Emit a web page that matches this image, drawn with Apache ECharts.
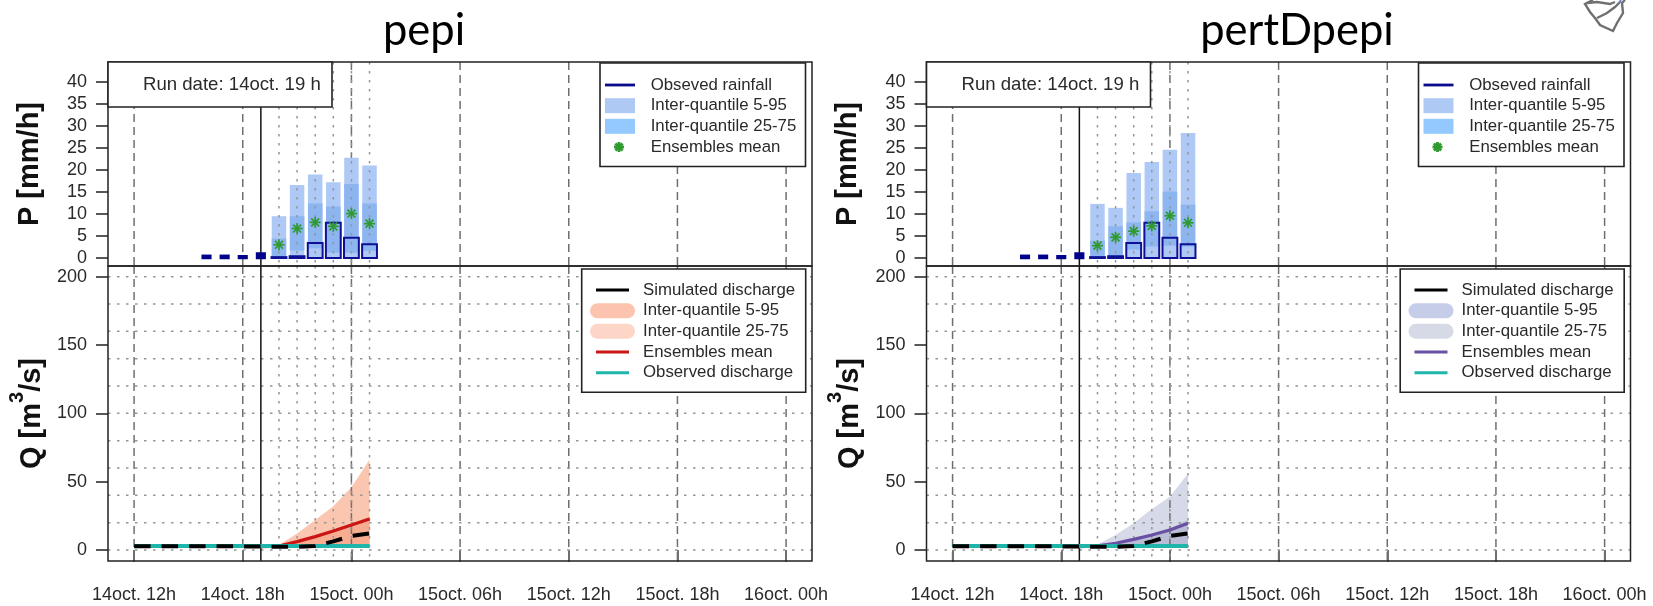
<!DOCTYPE html>
<html>
<head>
<meta charset="utf-8">
<title>pepi / pertDpepi</title>
<script src="https://cdn.jsdelivr.net/npm/echarts@6/dist/echarts.min.js"></script>
<style>
  html, body { margin: 0; padding: 0; background: #fff; }
  #chart { width: 1653px; height: 606px; }
</style>
</head>
<body>
<div id="chart"></div>
<script>
// hours counted from 14oct 00h
const timeTicks = [12, 18, 24, 30, 36, 42, 48]
const timeLabels = ['14oct. 12h', '14oct. 18h', '15oct. 00h', '15oct. 06h', '15oct. 12h', '15oct. 18h', '16oct. 00h']
const runHour = 19
const forecastHours = [20, 21, 22, 23, 24, 25]
const pastRainHours = [16, 17, 18, 19]
const pastRain = [0.5, 0.5, 0.4, 1.0]
const observedRain = [0.2, 0.4, 3.4, 8.0, 4.6, 3.1]
const rainTicks = [0, 5, 10, 15, 20, 25, 30, 35, 40]
const flowTicks = [0, 50, 100, 150, 200]
const flowGrid = [0, 20, 40, 60, 80, 100, 120, 140, 160, 180, 200]

const simHours = [12, 13, 14, 15, 16, 17, 18, 19, 20, 21, 22, 23, 24, 25]
const simulated = [2.8, 2.8, 2.8, 2.7, 2.7, 2.7, 2.6, 2.5, 2.4, 2.4, 3.0, 6.3, 10.3, 12.2]
const observedFlow = [3, 3, 3, 3, 3, 3, 3, 3, 3, 3, 3, 3, 3, 3]
const bandHours = [19, 20, 21, 22, 23, 24, 25]

// pepi
const pepiRainQ95 = [9.5, 16.6, 19.0, 17.2, 22.8, 21.0]
const pepiRainQ75 = [4.4, 9.5, 12.4, 11.7, 16.8, 12.4]
const pepiRainQ25 = [0.4, 1.7, 2.2, 1.2, 1.2, 1.6]
const pepiRainMean = [3.0, 6.7, 8.1, 7.2, 10.1, 7.8]
const pepiFlowQ95 = [2.6, 3.6, 12, 22, 32, 46, 66]
const pepiFlowQ75 = [2.6, 3.1, 6.3, 10.2, 14.8, 19.2, 24.5]
const pepiFlowLow = [2.6, 2.8, 2.9, 3, 3, 3, 3]
const pepiFlowMean = [2.5, 2.9, 6.1, 9.8, 13.9, 18.3, 22.7]

// pertDpepi
const pertRainQ95 = [12.3, 11.4, 19.3, 21.8, 24.6, 28.4]
const pertRainQ75 = [3.9, 7.2, 8.1, 10.6, 15.1, 12.1]
const pertRainQ25 = [0.3, 0.3, 1.9, 2.6, 2.8, 2.6]
const pertRainMean = [2.8, 4.7, 6.1, 7.3, 9.6, 8.0]
const pertFlowQ95 = [2.6, 4.0, 11, 19.5, 30, 39, 56]
const pertFlowQ75 = [2.6, 3.0, 5.4, 8.5, 11.7, 16, 22]
const pertFlowLow = [2.6, 2.8, 2.9, 3, 3, 3, 3]
const pertFlowMean = [2.5, 3.0, 4.9, 7.8, 11, 14.6, 19.5]

const rainLegend = ['Obseved rainfall', 'Inter-quantile 5-95', 'Inter-quantile 25-75', 'Ensembles mean']
const flowLegend = ['Simulated discharge', 'Inter-quantile 5-95', 'Inter-quantile 25-75', 'Ensembles mean', 'Observed discharge']

const FONT = '"Liberation Sans", Arial, sans-serif'
const INK = '#222'
const NAVY = '#0d1096'
const GREEN = '#2f9a2f'
const TEAL = '#1fb5ab'

const X_MIN = 10.56
const X_MAX = 49.43

const series = []
const xAxes = []
const yAxes = []
const grids = []

function verticals(values, gridIndex, style, z) {
  return {
    type: 'custom', xAxisIndex: gridIndex, yAxisIndex: gridIndex, z: z, silent: true,
    data: values.map(v => [v]),
    encode: { x: 0 },
    renderItem: (params, api) => {
      const x = api.coord([api.value(0), 0])[0]
      const c = params.coordSys
      return { type: 'line', shape: { x1: x, y1: c.y, x2: x, y2: c.y + c.height }, style: style }
    }
  }
}

function horizontals(values, gridIndex, style, z) {
  return {
    type: 'custom', xAxisIndex: gridIndex, yAxisIndex: gridIndex, z: z, silent: true,
    data: values.map(v => [v]),
    encode: { y: 0 },
    renderItem: (params, api) => {
      const y = api.coord([X_MIN, api.value(0)])[1]
      const c = params.coordSys
      return { type: 'line', shape: { x1: c.x, y1: y, x2: c.x + c.width, y2: y }, style: style }
    }
  }
}

// columns spanning lo..hi, one per hour
function columns(hours, lo, hi, barHours, style, gridIndex, z) {
  return {
    type: 'custom', xAxisIndex: gridIndex, yAxisIndex: gridIndex, z: z, silent: true,
    data: hours.map((h, i) => [h, lo[i], hi[i]]),
    encode: { x: 0, y: 2 },
    renderItem: (params, api) => {
      const a = api.coord([api.value(0) - barHours / 2, api.value(2)])
      const b = api.coord([api.value(0) + barHours / 2, api.value(1)])
      return { type: 'rect', shape: { x: a[0], y: a[1], width: b[0] - a[0], height: b[1] - a[1] }, style: style }
    }
  }
}

function stars(hours, values, gridIndex) {
  return {
    type: 'custom', xAxisIndex: gridIndex, yAxisIndex: gridIndex, z: 7, silent: true,
    data: hours.map((h, i) => [h, values[i]]),
    encode: { x: 0, y: 1 },
    renderItem: (params, api) => {
      const p = api.coord([api.value(0), api.value(1)])
      return { type: 'group', children: starShapes(p[0], p[1], 5.5, 1.7) }
    }
  }
}

function starShapes(x, y, r, w) {
  const d = r * 0.72
  const style = { stroke: GREEN, lineWidth: w, fill: 'none' }
  return [[-r, 0, r, 0], [0, -r, 0, r], [-d, -d, d, d], [-d, d, d, -d]].map(s => ({
    type: 'line', z: 100, shape: { x1: x + s[0], y1: y + s[1], x2: x + s[2], y2: y + s[3] }, style: style
  }))
}

// closed area between two curves
function band(hours, lo, hi, fill, gridIndex, z) {
  return {
    type: 'custom', xAxisIndex: gridIndex, yAxisIndex: gridIndex, z: z, silent: true,
    data: [[hours[0], lo[0]], [hours[hours.length - 1], hi[hi.length - 1]]],
    encode: { x: 0, y: 1 },
    renderItem: (params, api) => {
      if (params.dataIndex > 0) return null
      const pts = []
      hours.forEach((h, i) => pts.push(api.coord([h, hi[i]])))
      for (let i = hours.length - 1; i >= 0; i--) pts.push(api.coord([hours[i], lo[i]]))
      return { type: 'polygon', shape: { points: pts }, style: { fill: fill } }
    }
  }
}

function curve(hours, values, color, width, gridIndex, z, dash) {
  return {
    type: 'line', xAxisIndex: gridIndex, yAxisIndex: gridIndex, z: z, silent: true,
    showSymbol: false, symbol: 'none', smooth: false,
    data: hours.map((h, i) => [h, values[i]]),
    lineStyle: { color: color, width: width, type: dash || 'solid', cap: 'butt' }
  }
}

function xAxis(gridIndex, withLabels) {
  return {
    type: 'value', gridIndex: gridIndex, min: X_MIN, max: X_MAX,
    splitLine: { show: false }, axisLine: { show: false },
    axisTick: withLabels ? { show: true, customValues: timeTicks, length: 12, lineStyle: { color: '#444', width: 1.5 } } : { show: false },
    axisLabel: withLabels ? {
      show: true, customValues: timeTicks, margin: 25, fontSize: 18, fontFamily: FONT, color: '#2a2a2a',
      formatter: v => timeLabels[timeTicks.indexOf(v)]
    } : { show: false }
  }
}

function yAxis(gridIndex, min, max, ticks, name, gap) {
  return {
    type: 'value', gridIndex: gridIndex, min: min, max: max,
    splitLine: { show: false }, axisLine: { show: false },
    axisTick: { show: true, customValues: ticks, length: 12, lineStyle: { color: INK, width: 1.5 } },
    axisLabel: { customValues: ticks, margin: 21, fontSize: 18, fontFamily: FONT, color: '#2a2a2a' },
    name: name, nameLocation: 'middle', nameRotate: 90, nameGap: gap,
    nameTextStyle: {
      fontSize: 29, fontWeight: 'bold', fontFamily: FONT, color: '#111',
      rich: { sup: { fontSize: 20, fontFamily: FONT, color: '#111', verticalAlign: 'top', padding: [0, 0, 29, 0] } }
    }
  }
}

function addPanel(left, idx, d) {
  const top = idx * 2
  const bottom = top + 1
  grids.push({ left: left, width: 704, top: 62, height: 204, show: true, borderColor: INK, borderWidth: 1.5, backgroundColor: 'transparent', z: 9 })
  grids.push({ left: left, width: 704, top: 266, height: 295, show: true, borderColor: INK, borderWidth: 1.5, backgroundColor: 'transparent', z: 9 })
  xAxes.push(xAxis(top, false), xAxis(bottom, true))
  yAxes.push(yAxis(top, -1.818, 44.545, rainTicks, 'P [mm/h]', 64))
  yAxes.push(yAxis(bottom, -8.05, 207.8, flowTicks, 'Q [m{sup|3}/s]', 52))

  const dashed = { stroke: '#6f6f6f', lineWidth: 1.5, lineDash: [8, 5] }
  const dotted = { stroke: '#959595', lineWidth: 1.5, lineDash: [2.5, 6.5] }
  const solid = { stroke: '#111', lineWidth: 1.5 }

  // rainfall
  series.push(verticals(timeTicks, top, dashed, 2))
  series.push(columns(forecastHours, forecastHours.map(() => 0), d.rainQ95, 0.8, { fill: '#aec9f5' }, top, 3))
  series.push(columns(forecastHours, d.rainQ25, d.rainQ75, 0.8, { fill: '#8db5ef' }, top, 4))
  series.push(verticals(forecastHours, top, dotted, 5))
  series.push(verticals([runHour], top, solid, 5))
  series.push(columns(pastRainHours, pastRainHours.map(() => 0), pastRain, 0.42, { fill: '#00008b', stroke: '#00008b', lineWidth: 2.5 }, top, 6))
  series.push(columns(forecastHours, forecastHours.map(() => 0), observedRain, 0.82, { fill: 'none', stroke: NAVY, lineWidth: 2 }, top, 6))
  series.push(stars(forecastHours, d.rainMean, top))

  // discharge
  series.push(band(bandHours, d.flowLow, d.flowQ95, d.bandOuter, bottom, 1))
  series.push(band(bandHours, d.flowLow, d.flowQ75, d.bandInner, bottom, 2))
  series.push(verticals(timeTicks, bottom, dashed, 3))
  series.push(verticals(forecastHours, bottom, dotted, 3))
  series.push(horizontals(flowGrid, bottom, dotted, 3))
  series.push(verticals([runHour], bottom, solid, 3))
  series.push(curve(bandHours, d.flowMean, d.meanColor, 3.2, bottom, 4))
  series.push(curve(simHours, observedFlow, TEAL, 4, bottom, 5))
  series.push(curve(simHours, simulated, '#000', 4, bottom, 6, [16.5, 11]))
}

// run date box and the two legend boxes, offset per panel
function panelGraphics(dx, d) {
  const g = []
  const box = (x, y, w, h) => ({
    type: 'rect', z: 20, shape: { x: x + dx, y: y, width: w, height: h },
    style: { fill: '#fff', stroke: INK, lineWidth: 1.6 }
  })
  const label = (x, y, text, size) => ({
    type: 'text', z: 21, x: x + dx, y: y,
    style: { text: text, fill: '#2a2a2a', fontSize: size, fontFamily: FONT, verticalAlign: 'middle', align: 'left' }
  })
  const stroke = (x1, x2, y, color, w) => ({
    type: 'line', z: 21, shape: { x1: x1 + dx, y1: y, x2: x2 + dx, y2: y },
    style: { stroke: color, lineWidth: w }
  })

  g.push(box(108, 62, 224, 45))
  g.push(label(143, 85, 'Run date: 14oct. 19 h', 18.6))

  // rainfall legend
  g.push(box(600, 63, 205.5, 103.5))
  const rainRows = [85, 105.7, 126.3, 147]
  rainLegend.forEach((t, i) => g.push(label(650.7, rainRows[i], t, 16.8)))
  g.push(stroke(605, 635, rainRows[0], '#0a0a8c', 2.8))
  g.push({ type: 'rect', z: 21, shape: { x: 605 + dx, y: rainRows[1] - 7.5, width: 30, height: 15 }, style: { fill: '#afc9f5' } })
  g.push({ type: 'rect', z: 21, shape: { x: 605 + dx, y: rainRows[2] - 7.5, width: 30, height: 15 }, style: { fill: '#93c9ff' } })
  starShapes(619 + dx, rainRows[3], 5, 2.8).forEach(s => { s.z = 21; g.push(s) })

  // discharge legend
  g.push(box(581.7, 269, 224, 123.3))
  const flowRows = [290, 310.7, 331.3, 352, 372.7]
  flowLegend.forEach((t, i) => g.push(label(643, flowRows[i], t, 16.8)))
  g.push(stroke(596, 629, flowRows[0], '#000', 3))
  g.push({ type: 'rect', z: 21, shape: { x: 590 + dx, y: flowRows[1] - 7.5, width: 45, height: 15, r: 7.5 }, style: { fill: d.legendOuter } })
  g.push({ type: 'rect', z: 21, shape: { x: 590 + dx, y: flowRows[2] - 7.5, width: 45, height: 15, r: 7.5 }, style: { fill: d.legendInner } })
  g.push(stroke(596, 629, flowRows[3], d.meanColor, 3))
  g.push(stroke(596, 629, flowRows[4], TEAL, 3))
  return g
}

const pepi = {
  rainQ95: pepiRainQ95, rainQ75: pepiRainQ75, rainQ25: pepiRainQ25, rainMean: pepiRainMean,
  flowQ95: pepiFlowQ95, flowQ75: pepiFlowQ75, flowLow: pepiFlowLow, flowMean: pepiFlowMean,
  bandOuter: '#fbc6b0', bandInner: '#f8ad92', meanColor: '#cc1616',
  legendOuter: '#fcc3ae', legendInner: '#fdd6c7'
}
const pert = {
  rainQ95: pertRainQ95, rainQ75: pertRainQ75, rainQ25: pertRainQ25, rainMean: pertRainMean,
  flowQ95: pertFlowQ95, flowQ75: pertFlowQ75, flowLow: pertFlowLow, flowMean: pertFlowMean,
  bandOuter: '#d6d9e8', bandInner: '#b9bed6', meanColor: '#6a50a2',
  legendOuter: '#c5cde8', legendInner: '#d6dae6'
}

addPanel(108, 0, pepi)
addPanel(926.5, 1, pert)

// small basin outline cut off by the top right corner
const basinOutline = [[1593, 0], [1585, 4], [1590, 12], [1595, 18], [1600, 25], [1613, 31], [1617, 23], [1623, 13], [1622, 3], [1625, 0]]
const basinInner = [[1587, 3], [1597, 2], [1610, 4], [1615, 2]]
const basinFork = [[1597, 18], [1607, 13], [1615, 7], [1620, 2]]
const basin = [basinOutline, basinInner, basinFork].map(points => ({
  type: 'polyline', z: 21, shape: { points: points },
  style: { stroke: '#707070', lineWidth: 2.4, fill: 'none' }
}))
basin.push({ type: 'line', z: 22, shape: { x1: 1619, y1: 3, x2: 1621, y2: 0 }, style: { stroke: '#6a78c8', lineWidth: 2 } })

const chart = echarts.init(document.getElementById('chart'))
chart.setOption({
  animation: false,
  backgroundColor: '#fff',
  title: [
    { text: 'pepi', left: 419, top: 4, textAlign: 'center', textStyle: { fontSize: 43.5, fontWeight: 'normal', fontFamily: 'Lato', color: '#000' } },
    { text: 'pertDpepi', left: 1292, top: 4, textAlign: 'center', textStyle: { fontSize: 43.5, fontWeight: 'normal', fontFamily: 'Lato', color: '#000' } }
  ],
  grid: grids,
  xAxis: xAxes,
  yAxis: yAxes,
  series: series,
  graphic: { elements: panelGraphics(0, pepi).concat(panelGraphics(818.5, pert), basin) }
})
</script>
</body>
</html>
